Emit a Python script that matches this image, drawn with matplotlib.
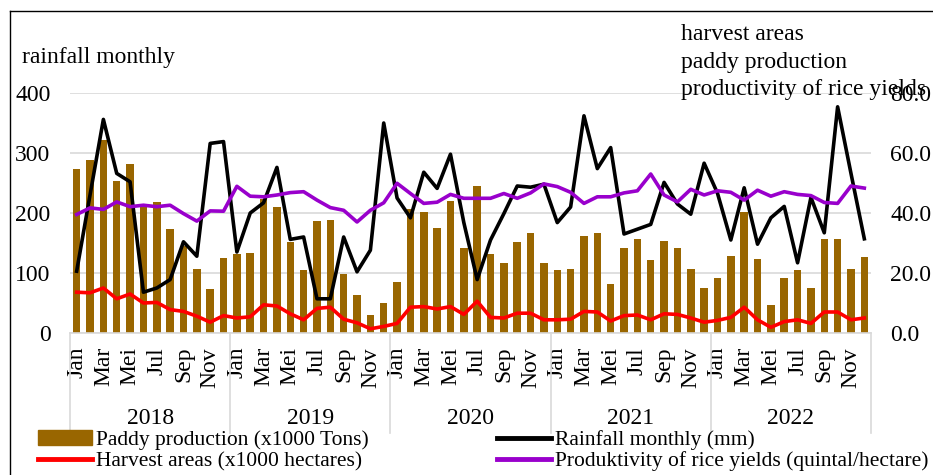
import matplotlib
matplotlib.use("Agg")
import matplotlib.pyplot as plt
import matplotlib.transforms as mtransforms
from matplotlib.lines import Line2D
from matplotlib.patches import Patch
import numpy as np

plt.rcParams['font.family'] = ['Liberation Serif', 'DejaVu Serif']

years = ['2018', '2019', '2020', '2021', '2022']
month_labels = ['Jan', 'Mar', 'Mei', 'Jul', 'Sep', 'Nov']

# paddy production (x1000 tons), monthly 2018-2022
paddy = [273, 288, 321, 253, 281, 212, 219, 173, 145, 107, 73, 125,
         132, 134, 224, 210, 151, 105, 186, 188, 99, 64, 30, 50,
         85, 207, 201, 175, 220, 141, 245, 132, 117, 152, 166, 116,
         105, 107, 161, 167, 81, 142, 156, 121, 153, 141, 107, 75,
         92, 129, 202, 124, 47, 92, 105, 75, 157, 156, 107, 126]

# rainfall monthly (mm)
rainfall = [103, 230, 356, 266, 252, 68, 75, 89, 152, 128, 316, 319,
            135, 200, 217, 276, 156, 160, 57, 57, 160, 102, 138, 350,
            225, 192, 268, 241, 298, 184, 89, 155, 199, 245, 243, 248,
            184, 210, 362, 274, 309, 165, 173, 181, 251, 215, 198, 283,
            233, 155, 242, 148, 192, 211, 117, 226, 167, 377, 266, 157]

# harvest areas (x1000 hectares)
harvest = [68, 67, 75, 57, 65, 50, 51, 39, 36, 28, 18, 29,
           25, 27, 47, 45, 32, 22, 41, 43, 23, 17, 7, 11,
           16, 43, 44, 40, 44, 31, 53, 26, 25, 33, 33, 22,
           22, 23, 36, 35, 20, 29, 30, 22, 32, 31, 25, 18,
           21, 26, 43, 22, 9.5, 19, 22, 16, 35, 35, 22, 25]

# productivity of rice yields (quintal/hectare)
productivity = [39.5, 41.7, 41.2, 43.7, 42.1, 42.6, 42.1, 42.6, 39.8, 37.3, 40.7, 40.6,
                48.9, 45.6, 45.4, 46.0, 46.8, 47.1, 44.3, 41.8, 40.9, 37.0, 40.9, 43.4,
                49.9, 46.5, 43.2, 43.6, 46.2, 44.9, 44.9, 44.9, 46.5, 44.9, 46.7, 49.7,
                48.8, 46.9, 43.2, 45.4, 45.4, 46.7, 47.4, 53.0, 46.0, 43.7, 47.9, 46.0,
                47.4, 46.9, 44.3, 47.6, 45.6, 47.1, 46.2, 45.8, 43.5, 43.2, 49.0, 48.3]

bar_color = '#996600'
grid_color = '#d9d9d9'
fs = 17

x = np.arange(len(paddy))

fig = plt.figure(figsize=(9.33, 4.75), dpi=100)
ax = fig.add_axes([70 / 933, 142 / 475, 801 / 933, 240 / 475])
ax2 = ax.twinx()

ax.bar(x, paddy, width=0.56, color=bar_color, zorder=2)
ax.plot(x, rainfall, color='black', lw=2.6, zorder=3)
ax.plot(x, harvest, color='#ff0000', lw=2.6, zorder=3)
ax2.plot(x, productivity, color='#9900cc', lw=2.6)

ax.set_xlim(-0.5, len(x) - 0.5)
ax.set_ylim(0, 400)
ax2.set_ylim(0, 80)

ax.set_yticks([0, 100, 200, 300, 400])
ax2.set_yticks([0, 20, 40, 60, 80])
ax2.set_yticklabels(['%.1f' % v for v in [0, 20, 40, 60, 80]])
ax.yaxis.grid(True, color=grid_color, lw=1.2)
ax.set_axisbelow(True)

for a in (ax, ax2):
    for s in a.spines.values():
        s.set_visible(False)
ax.spines['bottom'].set_visible(True)
ax.spines['bottom'].set_color(grid_color)
ax.spines['bottom'].set_linewidth(1.2)

ax.tick_params(axis='y', length=0, pad=14, labelsize=fs)
ax2.tick_params(axis='y', length=0, pad=14, labelsize=fs)

# month labels every other month, rotated
ax.set_xticks(x[::2])
ax.set_xticklabels(month_labels * len(years), rotation=90)
ax.tick_params(axis='x', length=0, pad=10, labelsize=fs)

# year groups under the month labels
trans = mtransforms.blended_transform_factory(ax.transData, ax.transAxes)
for k, yr in enumerate(years):
    ax.text(12 * k + 5.5, -0.358, yr, transform=trans, ha='center', va='center',
            fontsize=fs)
for k in range(len(years) + 1):
    ax.add_line(Line2D([12 * k - 0.5, 12 * k - 0.5], [0, -0.417], transform=trans,
                       color=grid_color, lw=1.2, clip_on=False))

# axis captions above the plot
fig.text(22 / 933, 1 - 58 / 475, 'rainfall monthly', fontsize=fs, va='center')
for k, t in enumerate(['harvest areas', 'paddy production', 'productivity of rice yields']):
    fig.text(681 / 933, 1 - (35 + 27.5 * k) / 475, t, fontsize=fs, va='center')

# outer frame (left and top edges)
fig.add_artist(Line2D([10 / 933, 10 / 933], [0, 1 - 11 / 475], color='black', lw=1))
fig.add_artist(Line2D([10 / 933, 1], [1 - 11 / 475, 1 - 11 / 475], color='black', lw=1))

leg_kw = dict(loc='upper left', frameon=False, fontsize=fs - 1.5, handlelength=2.5,
              handletextpad=0.2, borderpad=0, borderaxespad=0, labelspacing=0.05)
fig.legend([Patch(color=bar_color), Line2D([], [], color='#ff0000', lw=3.5)],
           ['Paddy production (x1000 Tons)', 'Harvest areas (x1000 hectares)'],
           bbox_to_anchor=(38 / 933, 1 - 430 / 475), **leg_kw)
fig.legend([Line2D([], [], color='black', lw=3.5), Line2D([], [], color='#9900cc', lw=3.5)],
           ['Rainfall monthly (mm)', 'Produktivity of rice yields (quintal/hectare)'],
           bbox_to_anchor=(497 / 933, 1 - 430 / 475), **leg_kw)

fig.savefig('out.png', dpi=100)
